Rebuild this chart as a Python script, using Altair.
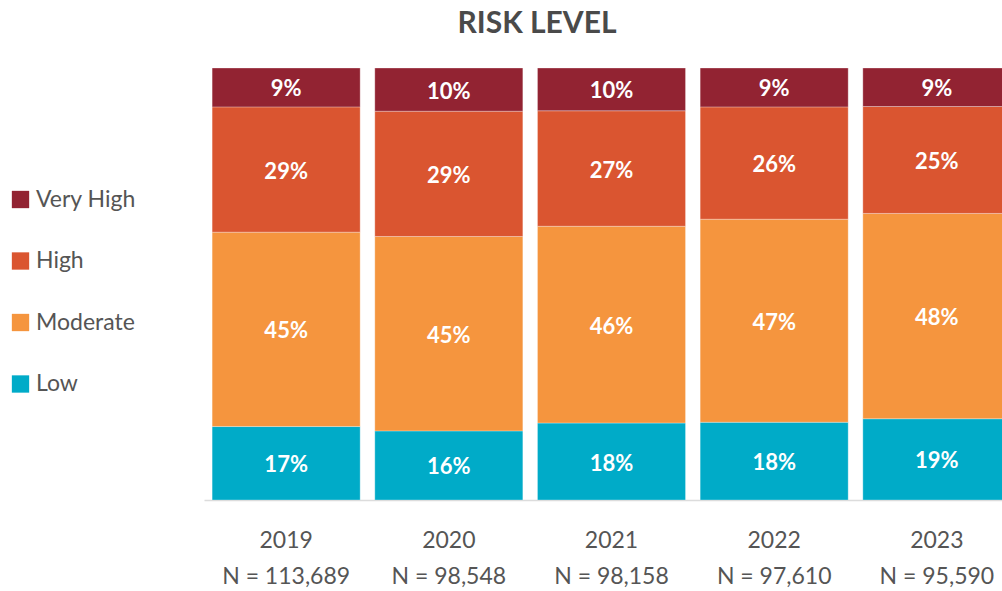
import altair as alt
import pandas as pd

# Share of cases by risk level per year (percent, as labelled)
years = ["2019", "2020", "2021", "2022", "2023"]
sample_sizes = ["N = 113,689", "N = 98,548", "N = 98,158", "N = 97,610", "N = 95,590"]
low = [17, 16, 18, 18, 19]
moderate = [45, 45, 46, 47, 48]
high = [29, 29, 27, 26, 25]
very_high = [9, 10, 10, 9, 9]

levels = ["Very High", "High", "Moderate", "Low"]
colors = ["#922332", "#DA5530", "#F5953E", "#00ABC8"]
stack_rank = {"Low": 0, "Moderate": 1, "High": 2, "Very High": 3}

rows = []
for i, yr in enumerate(years):
    cat = f"{yr}|{sample_sizes[i]}"
    for lvl, vals in [("Low", low), ("Moderate", moderate), ("High", high), ("Very High", very_high)]:
        rows.append({"cat": cat, "level": lvl, "pct": vals[i], "rank": stack_rank[lvl]})
df = pd.DataFrame(rows)
cats = [f"{y}|{n}" for y, n in zip(years, sample_sizes)]

W, H = 798, 432

base = alt.Chart(df).transform_stack(
    stack="pct", groupby=["cat"], as_=["y0", "y1"],
    sort=[alt.SortField("rank", order="ascending")], offset="normalize",
).transform_calculate(mid="(datum.y0 + datum.y1) / 2", txt="datum.pct + '%'")

x_enc = alt.X(
    "cat:N", sort=cats, title=None,
    scale=alt.Scale(range=[0, 815], paddingInner=0.09, paddingOuter=0.05),
    axis=alt.Axis(
        labelExpr="split(datum.label, '|')", labelAngle=0, labelFontSize=23,
        labelFont="Lato", labelColor="#555555", labelLineHeight=36,
        labelPadding=29, ticks=False, domainColor="#dcdcdc", domainWidth=1.5,
    ),
)
y_scale = alt.Scale(domain=[0, 1])

bars = base.mark_bar(clip=True, stroke="white", strokeWidth=0.6, strokeOpacity=0.5).encode(
    x=x_enc,
    y=alt.Y("y0:Q", scale=y_scale, axis=None),
    y2="y1:Q",
    color=alt.Color(
        "level:N",
        scale=alt.Scale(domain=levels, range=colors),
        legend=alt.Legend(
            title=None, orient="none", legendX=-195, legendY=120,
            symbolType="square", symbolSize=300, symbolStrokeWidth=0,
            labelFontSize=23, labelFont="Lato", labelColor="#555555",
            rowPadding=37.5, labelOffset=4,
        ),
    ),
)

labels = base.mark_text(
    font="Lato", fontSize=22, fontWeight="bold", color="white", baseline="middle", dy=2
).encode(
    x=alt.X("cat:N", sort=cats),
    y=alt.Y("mid:Q", scale=y_scale),
    text="txt:N",
)

chart = alt.layer(bars, labels).properties(
    width=W, height=H,
    title=alt.TitleParams(
        "RISK LEVEL", font="Lato", fontSize=30, fontWeight="bold", color="#4a4a4a",
        anchor="middle", frame="group", dx=-66, offset=29,
    ),
    autosize=alt.AutoSizeParams(type="none"),
    padding={"left": 204, "top": 68, "right": 0, "bottom": 91},
).configure_view(stroke=None)

chart.save("out.html", embed_options={"renderer": "svg", "actions": False})
